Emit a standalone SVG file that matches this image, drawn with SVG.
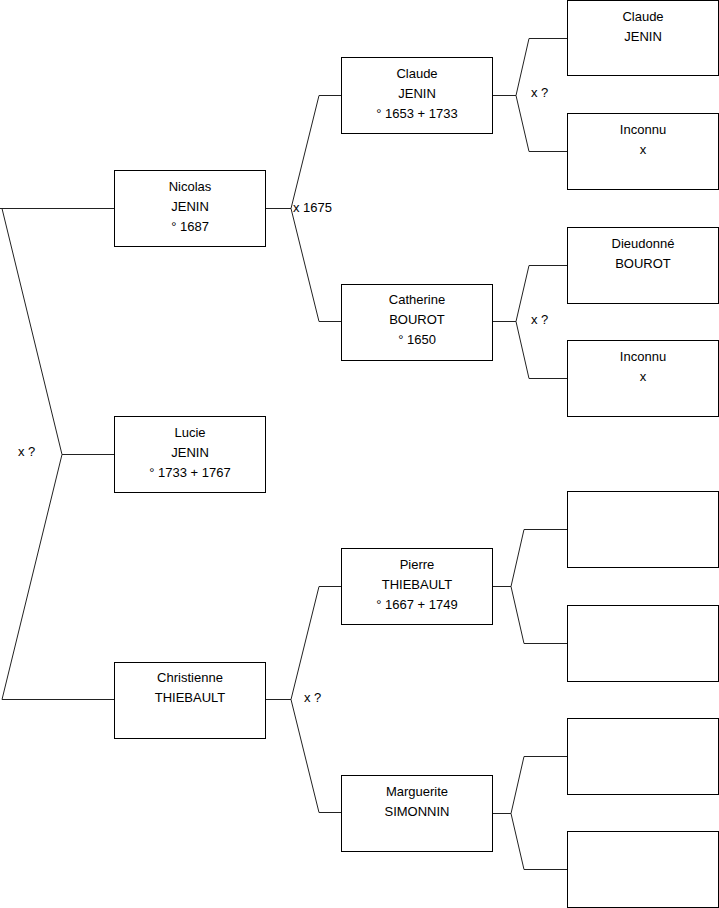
<svg xmlns="http://www.w3.org/2000/svg" width="719" height="908" viewBox="0 0 719 908">
<style>
.box{fill:#fff;stroke:#000;stroke-width:1}
.t{font-family:"Liberation Sans",Arial,sans-serif;font-size:13px;fill:#000;text-anchor:middle}
.l{font-family:"Liberation Sans",Arial,sans-serif;font-size:13px;fill:#000}
.c{fill:none;stroke:#222;stroke-width:1}
</style>
<rect width="719" height="908" fill="#fff"/>
<g id="connectors">
<polyline class="c" points="114,208.5 0,208.5 2,208.5 62,454.5 2,699.5 114,699.5"/>
<line class="c" x1="62" y1="454.5" x2="114" y2="454.5"/>
<polyline class="c" points="265,208.5 291,208.5"/>
<polyline class="c" points="341,95.5 319,95.5 291,208.5 319,321.5 341,321.5"/>
<polyline class="c" points="265,699.5 291,699.5"/>
<polyline class="c" points="341,586.5 319,586.5 291,699.5 319,812.5 341,812.5"/>
<polyline class="c" points="492,95.5 516,95.5"/>
<polyline class="c" points="567,38.5 529,38.5 516,95.5 529,151.5 567,151.5"/>
<polyline class="c" points="492,321.5 516,321.5"/>
<polyline class="c" points="567,265.5 529,265.5 516,321.5 529,378.5 567,378.5"/>
<polyline class="c" points="492,586.5 511,586.5"/>
<polyline class="c" points="567,529.5 524,529.5 511,586.5 524,643.5 567,643.5"/>
<polyline class="c" points="492,813.5 511,813.5"/>
<polyline class="c" points="567,756.5 524,756.5 511,813.5 524,869.5 567,869.5"/>
<text class="l" x="18" y="456">x ?</text>
<text class="l" x="293" y="212">x 1675</text>
<text class="l" x="304" y="702">x ?</text>
<text class="l" x="531" y="97">x ?</text>
<text class="l" x="531" y="324">x ?</text>
</g>
<g id="nicolas"><rect class="box" x="114.5" y="170.5" width="151" height="76"/>
<text class="t" x="190" y="191">Nicolas</text><text class="t" x="190" y="211">JENIN</text><text class="t" x="190" y="231">° 1687</text></g>
<g id="lucie"><rect class="box" x="114.5" y="416.5" width="151" height="76"/>
<text class="t" x="190" y="437">Lucie</text><text class="t" x="190" y="457">JENIN</text><text class="t" x="190" y="477">° 1733 + 1767</text></g>
<g id="christienne"><rect class="box" x="114.5" y="662.5" width="151" height="76"/>
<text class="t" x="190" y="682">Christienne</text><text class="t" x="190" y="702">THIEBAULT</text></g>
<g id="claude"><rect class="box" x="341.5" y="57.5" width="151" height="76"/>
<text class="t" x="417" y="78">Claude</text><text class="t" x="417" y="98">JENIN</text><text class="t" x="417" y="118">° 1653 + 1733</text></g>
<g id="catherine"><rect class="box" x="341.5" y="284.5" width="151" height="76"/>
<text class="t" x="417" y="304">Catherine</text><text class="t" x="417" y="324">BOUROT</text><text class="t" x="417" y="344">° 1650</text></g>
<g id="pierre"><rect class="box" x="341.5" y="548.5" width="151" height="76"/>
<text class="t" x="417" y="569">Pierre</text><text class="t" x="417" y="589">THIEBAULT</text><text class="t" x="417" y="609">° 1667 + 1749</text></g>
<g id="marguerite"><rect class="box" x="341.5" y="775.5" width="151" height="76"/>
<text class="t" x="417" y="796">Marguerite</text><text class="t" x="417" y="816">SIMONNIN</text></g>
<g id="claude2"><rect class="box" x="567.5" y="0.5" width="151" height="75"/>
<text class="t" x="643" y="21">Claude</text><text class="t" x="643" y="41">JENIN</text></g>
<g id="inconnu1"><rect class="box" x="567.5" y="113.5" width="151" height="76"/>
<text class="t" x="643" y="134">Inconnu</text><text class="t" x="643" y="154">x</text></g>
<g id="dieudonne"><rect class="box" x="567.5" y="227.5" width="151" height="76"/>
<text class="t" x="643" y="248">Dieudonné</text><text class="t" x="643" y="268">BOUROT</text></g>
<g id="inconnu2"><rect class="box" x="567.5" y="340.5" width="151" height="76"/>
<text class="t" x="643" y="361">Inconnu</text><text class="t" x="643" y="381">x</text></g>
<g id="empty1"><rect class="box" x="567.5" y="491.5" width="151" height="76"/></g>
<g id="empty2"><rect class="box" x="567.5" y="605.5" width="151" height="76"/></g>
<g id="empty3"><rect class="box" x="567.5" y="718.5" width="151" height="76"/></g>
<g id="empty4"><rect class="box" x="567.5" y="831.5" width="151" height="76"/></g>
</svg>
